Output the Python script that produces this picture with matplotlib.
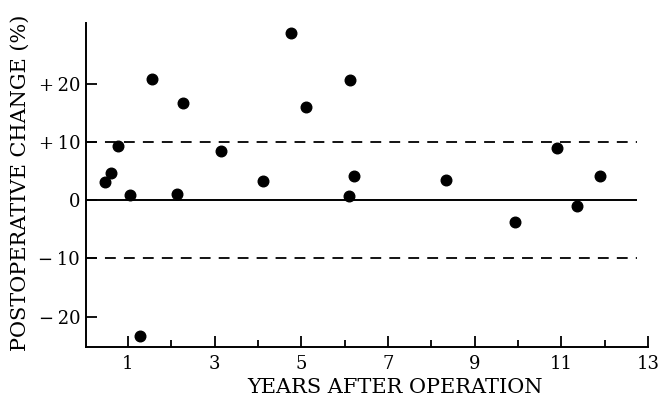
import matplotlib
matplotlib.use("Agg")
import matplotlib.pyplot as plt

# follow-up years and postoperative change (%)
years = [0.47, 0.60, 0.78, 1.05, 1.28, 1.56, 2.14, 2.27, 3.14, 4.13,
         4.76, 5.11, 6.11, 6.13, 6.22, 8.35, 9.93, 10.9, 11.37, 11.89]
change = [3.1, 4.7, 9.3, 0.9, -23.3, 20.8, 1.0, 16.6, 8.5, 3.3,
          28.6, 16.0, 0.7, 20.6, 4.2, 3.4, -3.8, 9.0, -1.0, 4.2]

x_major = [1, 3, 5, 7, 9, 11, 13]
x_minor = [2, 4, 6, 8, 10, 12]
y_ticks = [-20, -10, 0, 10, 20]
y_labels = ["\u2212\u200920", "\u2212\u200910", "0", "+\u200910", "+\u200920"]
limits = [-10, 10]

plt.rcParams["font.family"] = ["DejaVu Serif"]

fig = plt.figure(figsize=(6.6, 4.0), dpi=100)
ax = fig.add_axes([0.130, 0.1325, 0.853, 0.81])

ax.scatter(years, change, s=58, color="black", zorder=3)

# reference lines
ax.hlines(0, 0.03, 12.75, color="black", lw=1.4)
ax.hlines(limits, 0.03, 12.75, color="black", lw=1.3, linestyles=(0, (6, 4.5)))

ax.set_xlim(0.03, 13.02)
ax.set_ylim(-25.2, 30.4)

ax.spines["top"].set_visible(False)
ax.spines["right"].set_visible(False)
ax.spines["left"].set_linewidth(1.4)
ax.spines["bottom"].set_linewidth(1.4)
ax.spines["bottom"].set_bounds(0.03, 13)

ax.set_xticks(x_major)
ax.set_xticks(x_minor, minor=True)
ax.set_yticks(y_ticks)
ax.set_yticklabels(y_labels)
ax.tick_params(axis="x", which="major", direction="in", length=8, width=1.3,
               labelsize=13, pad=6)
ax.tick_params(axis="x", which="minor", direction="in", length=5, width=1.3)
ax.tick_params(axis="y", direction="in", length=8, width=1.3, labelsize=13, pad=4)

ax.set_xlabel("YEARS AFTER OPERATION", fontsize=15)
ax.set_ylabel("POSTOPERATIVE CHANGE (%)", fontsize=15)
ax.xaxis.set_label_coords(0.549, -0.096)
ax.yaxis.set_label_coords(-0.0995, 0.508)

fig.savefig("out.png", dpi=100)
